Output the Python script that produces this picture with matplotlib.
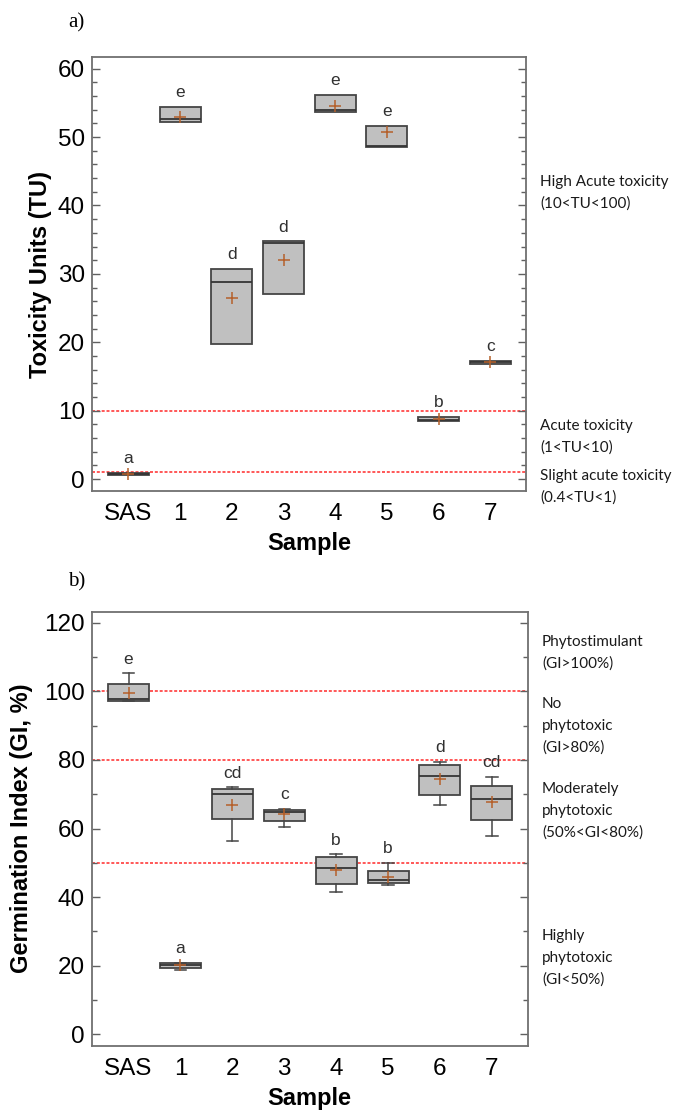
import matplotlib.pyplot as plt
from matplotlib.ticker import MultipleLocator

samples = ['SAS', '1', '2', '3', '4', '5', '6', '7']

# a) toxicity units (no whiskers visible, box = range)
tu_q1 = [0.65, 52.25, 19.8, 27.0, 53.7, 48.6, 8.55, 16.8]
tu_med = [0.75, 52.6, 28.8, 34.45, 53.9, 48.7, 8.7, 17.1]
tu_q3 = [0.85, 54.45, 30.75, 34.75, 56.2, 51.65, 9.05, 17.3]
tu_mean = [0.75, 53.0, 26.5, 32.0, 54.6, 50.7, 8.8, 17.1]
tu_letters = ['a', 'e', 'd', 'd', 'e', 'e', 'b', 'c']
tu_limits = [1, 10]

# b) germination index
gi_lo = [97.1, 18.9, 56.3, 60.5, 41.4, 43.6, 66.9, 57.8]
gi_q1 = [97.1, 19.3, 62.8, 62.3, 43.8, 44.2, 69.9, 62.5]
gi_med = [97.8, 20.1, 70.1, 64.8, 48.5, 45.0, 75.3, 68.7]
gi_q3 = [102.0, 20.8, 71.4, 65.5, 51.7, 47.7, 78.6, 72.4]
gi_hi = [105.2, 20.9, 72.0, 65.7, 52.5, 50.0, 79.4, 75.1]
gi_mean = [99.6, 20.3, 67.0, 64.1, 47.8, 45.9, 74.3, 67.7]
gi_letters = ['e', 'a', 'cd', 'c', 'b', 'b', 'd', 'cd']
gi_limits = [50, 80, 100]

plt.rcParams['font.family'] = ['Liberation Sans', 'DejaVu Sans']

W, H = 673, 1110
fig = plt.figure(figsize=(W / 100, H / 100), dpi=100)


def px_axes(left, top, right, bottom):
    return fig.add_axes([left / W, 1 - bottom / H, (right - left) / W, (bottom - top) / H])


def draw_panel(ax, lo, q1, med, q3, hi, mean, letters, limits, caps):
    stats = []
    for i in range(len(samples)):
        stats.append(dict(label=samples[i], whislo=lo[i], q1=q1[i], med=med[i],
                          q3=q3[i], whishi=hi[i], mean=mean[i], fliers=[]))
    pos = list(range(len(samples)))
    ax.bxp(stats, positions=pos, widths=0.79, patch_artist=True, showmeans=True,
           showcaps=caps, capwidths=0.22,
           boxprops=dict(facecolor='#c0c0c0', edgecolor='#454545', linewidth=1.3),
           medianprops=dict(color='#353535', linewidth=1.3),
           whiskerprops=dict(color='#454545', linewidth=1.1),
           capprops=dict(color='#454545', linewidth=1.1),
           meanprops=dict(marker='+', markeredgecolor='#b5602a', markersize=8,
                          markeredgewidth=1.1))
    for y in limits:
        ax.axhline(y, color='#ff3b3b', lw=1.2, ls=(0, (1.8, 1.1)), zorder=1)
    for p, top, t in zip(pos, hi, letters):
        ax.annotate(t, (p, top), xytext=(0, 7), textcoords='offset points',
                    ha='center', va='baseline', fontsize=12.5, color='#303030')
    ax.set_xlim(-0.71, 7.69)
    for s in ax.spines.values():
        s.set_color('#707070')
        s.set_linewidth(1.3)
    ax.tick_params(axis='x', length=0, labelsize=17.5, pad=8.5)
    ax.tick_params(axis='y', which='both', direction='in', left=True, right=True,
                   color='#606060', labelsize=17.5, pad=4.8)
    ax.tick_params(axis='y', which='major', length=6, width=1)
    ax.tick_params(axis='y', which='minor', length=3.6, width=1)
    ax.set_xlabel('Sample', fontsize=17, fontweight='bold', va='center')
    ax.xaxis.set_label_coords(0.5, -0.121)


ax1 = px_axes(91.7, 57.3, 526, 491)
draw_panel(ax1, tu_q1, tu_q1, tu_med, tu_q3, tu_q3, tu_mean, tu_letters, tu_limits, False)
ax1.set_ylim(-1.75, 61.67)
ax1.yaxis.set_major_locator(MultipleLocator(10))
ax1.yaxis.set_minor_locator(MultipleLocator(2))
ax1.set_ylabel('Toxicity Units (TU)', fontsize=17, fontweight='bold', va='center')
ax1.yaxis.set_label_coords(-0.118, 0.5)

ax2 = px_axes(91.7, 611.7, 527.7, 1045.7)
draw_panel(ax2, gi_lo, gi_q1, gi_med, gi_q3, gi_hi, gi_mean, gi_letters, gi_limits, True)
ax2.set_ylim(-3.3, 123.2)
ax2.yaxis.set_major_locator(MultipleLocator(20))
ax2.yaxis.set_minor_locator(MultipleLocator(10))
ax2.set_ylabel('Germination Index (GI, %)', fontsize=17, fontweight='bold', va='center')
ax2.yaxis.set_label_coords(-0.161, 0.5)

# panel letters
fig.text(68 / W, 1 - 23.3 / H, 'a)', family='Liberation Serif', fontsize=15, va='center')
fig.text(68 / W, 1 - 581.7 / H, 'b)', family='Liberation Serif', fontsize=15, va='center')

# class notes on the right
notes = [
    (540, 193, 'High Acute toxicity\n(10<TU<100)'),
    (540, 437, 'Acute toxicity\n(1<TU<10)'),
    (540, 487, 'Slight acute toxicity\n(0.4<TU<1)'),
    (542, 653, 'Phytostimulant\n(GI>100%)'),
    (542, 726, 'No\nphytotoxic\n(GI>80%)'),
    (542, 811, 'Moderately\nphytotoxic\n(50%<GI<80%)'),
    (542, 958, 'Highly\nphytotoxic\n(GI<50%)'),
]
for x, y, t in notes:
    fig.text(x / W, 1 - y / H, t, family='Lato', fontsize=11, va='center', ha='left',
             linespacing=1.7, color='#1a1a1a')

fig.savefig('out.png', dpi=100)
